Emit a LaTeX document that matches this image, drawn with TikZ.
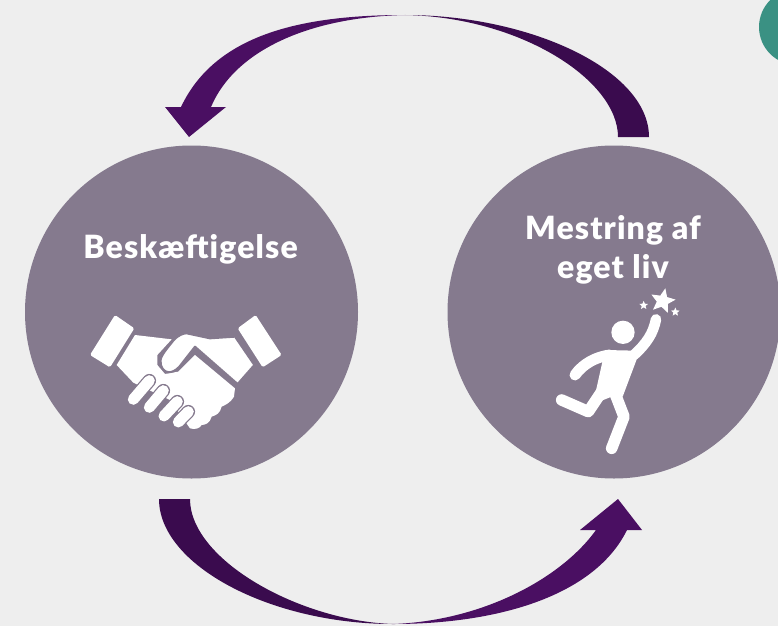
\documentclass[tikz,border=0pt]{standalone}
\usepackage{fontspec}
\setmainfont{Lato}
\newfontfamily\labelfont[LetterSpace=3.5]{Lato Black}
\usepackage{tikz}
\usetikzlibrary{shapes.geometric}
\definecolor{bgGray}{HTML}{EEEEEE}
\definecolor{circleGray}{HTML}{857A8E}
\definecolor{arrowDark}{HTML}{3A0B4E}
\definecolor{arrowLight}{HTML}{4A0F62}
\definecolor{cornerGreen}{HTML}{3A9183}
\tikzset{
  bigcircle/.style={circle, draw=none, fill=circleGray, minimum size=333pt, inner sep=0pt},
  circlelabel/.style={text=white, font=\fontsize{32}{39}\labelfont, align=center},
  iconpart/.style={fill=white, draw=none},
  limb/.style={draw=white, line width=#1, line cap=round, line join=round},
  tinystar/.style={star, star points=5, star point ratio=2.2, fill=white, inner sep=0pt, minimum size=#1}
}

\begin{document}
\begin{tikzpicture}[x=1pt,y=-1pt]
\clip (0,0) rectangle (778,626);
\fill[bgGray] (0,0) rectangle (778,626);

\node[circle,
      fill=cornerGreen,
      minimum size=76pt,
      inner sep=0pt
     ]
     (corner) at (797,27) {};
\node[bigcircle] (work) at (191.5,312) {};
\node[bigcircle] (mastery) at (614,312) {};
\node[circlelabel] (workText) at (190.5,249) {Beskæftigelse};
\node[circlelabel] (masteryText) at (613,250) {Mestring af\\eget liv};

% Arrows between the circles
\coordinate (topApex) at (405,15); \coordinate (topEnd) at (189,137);
\fill[arrowDark] (649,137) .. controls (649,70) and (530,15) .. (topApex)
	.. controls (520,17) and (618,80) .. (618,137) -- cycle;
\fill[arrowLight] (topApex) .. controls (300,15) and (215,35) .. (181,107)
	-- (165,107) -- (topEnd) -- (226,107) -- (211,107)
	.. controls (235,50) and (310,17) .. (topApex) -- cycle;
\coordinate (bottomApex) at (393,624); \coordinate (bottomEnd) at (618,499);
\fill[arrowDark] (159,499) .. controls (159,565) and (270,624) .. (bottomApex)
	.. controls (300,621) and (190,560) .. (190,499) -- cycle;
\fill[arrowLight] (bottomApex) .. controls (500,624) and (595,595) .. (627,530)
	-- (642,530) -- (bottomEnd) -- (580,530) -- (596,530)
	.. controls (560,580) and (480,621) .. (bottomApex) -- cycle;

% Handshake
\begin{scope}[shift={(70,300)},x=0.3333pt,y=-0.3333pt]
\fill[iconpart,rounded corners=1.5pt] (135,45) -- (193,85) -- (120,202) -- (60,165) -- cycle;
\fill[iconpart,rounded corners=1.5pt] (557,45) -- (503,85) -- (578,202) -- (635,165) -- cycle;
\fill[iconpart] (195,105) -- (305,118) -- (262,165) -- (262,195) -- (285,222) -- (325,215)
	-- (375,165) -- (495,265) -- (492,290) .. controls (480,310) and (465,315) .. (455,320)
	.. controls (450,340) and (440,345) .. (425,350) .. controls (420,370) and (405,375) .. (395,375)
	.. controls (390,385) and (375,390) .. (360,385) -- (300,300) -- (190,248) -- (140,195) -- cycle;
\draw[fill=white,draw=circleGray,line width=2pt,line join=round]
	(553,195) -- (503,252) -- (375,140) -- (328,200) .. controls (305,225) and (280,220) .. (273,195)
	.. controls (268,175) and (275,165) .. (310,122) .. controls (325,105) and (340,100) .. (350,100)
	-- (420,115) -- (495,110) -- cycle;
\foreach \xa/\ya/\xb/\yb in {190/298/238/242, 238/322/280/272, 282/348/322/305, 325/366/355/335} {
	\draw[circleGray,line width=13.5pt,line cap=round] (\xa,\ya) -- (\xb,\yb);
	\draw[white,line width=11pt,line cap=round] (\xa,\ya) -- (\xb,\yb);
}
\end{scope}

% Runner
\begin{scope}[shift={(530,280)},x=0.3333pt,y=-0.3333pt]
\fill[iconpart] (279,157) circle (35);
\fill[iconpart] (225,210) -- (315,212) -- (325,225) -- (278,350) -- (240,352) -- (190,372) -- (195,345) -- cycle;
\draw[limb=11pt] (135,285) .. controls (160,250) and (200,230) .. (240,225);
\draw[limb=10.5pt] (312,225) .. controls (350,190) and (370,160) .. (378,118);
\draw[limb=11.5pt] (255,340) -- (282,410) -- (245,505);
\draw[limb=11.5pt] (215,335) -- (175,395) -- (95,360);
\node[tinystar=26pt,rotate=-12] (bigStar) at (398,63) {};
\node[tinystar=9pt] (leftStar) at (341,76) {};
\node[tinystar=9pt] (rightStar) at (436,96) {};
\end{scope}

\end{tikzpicture}
\end{document}
